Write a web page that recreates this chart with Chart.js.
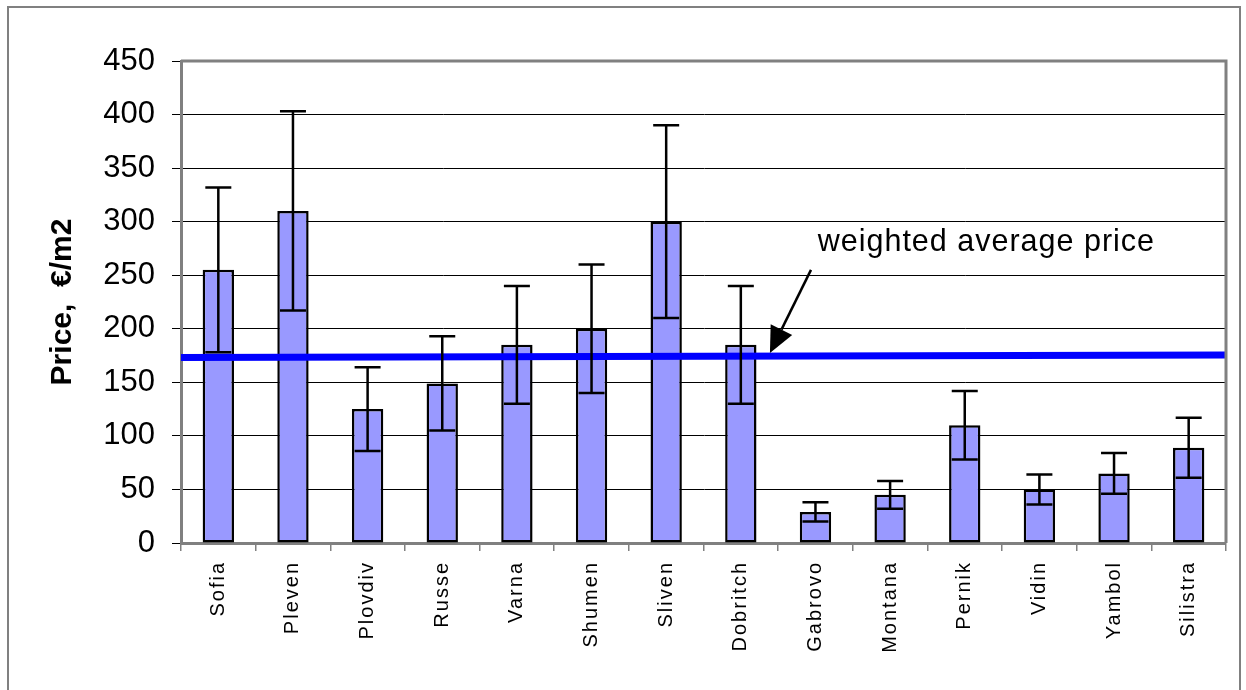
<!DOCTYPE html>
<html>
<head>
<meta charset="utf-8">
<script src="https://cdn.jsdelivr.net/npm/chart.js@4.4.1/dist/chart.umd.min.js"></script>
<style>
  html, body { margin: 0; padding: 0; background: #fff; }
  #wrap { position: relative; width: 1246px; height: 690px; }
</style>
</head>
<body>
<div id="wrap"><canvas id="myChart" width="1246" height="690"></canvas></div>
<script>
// Chart data
const cities = ['Sofia', 'Pleven', 'Plovdiv', 'Russe', 'Varna', 'Shumen', 'Sliven', 'Dobritch', 'Gabrovo', 'Montana', 'Pernik', 'Vidin', 'Yambol', 'Silistra'];
const prices = [255, 310, 125, 149, 185, 200, 300, 185, 29, 45, 110, 50, 65, 89];
const priceErrors = [77, 93, 39, 44, 55, 60, 90, 55, 9, 13, 32, 14, 19, 28];
// weighted average price line (start / end of the plot)
const avgX = [0, 14];
const avgPrice = [173.3, 175.5];
const yMin = 0, yMax = 450, yStep = 50;
const noteText = 'weighted average price';

const FONT = '"Liberation Sans", Arial, sans-serif';
const GREY = '#808080';

// Plugin: outer frame, plot frame, error bars and the arrow note
const extras = {
    id: 'extras',
    beforeDraw(chart) {
        const c = chart.ctx;
        c.save();
        c.strokeStyle = GREY;
        c.lineWidth = 2;
        c.beginPath();
        c.moveTo(8, 690); c.lineTo(8, 7); c.lineTo(1240, 7); c.lineTo(1240, 690);
        c.stroke();
        c.restore();

        // letter spacing only for the category labels
        const xs = chart.scales.x;
        if (!xs._spaced) {
            const orig = xs.drawLabels;
            xs.drawLabels = function (area) {
                this.ctx.save();
                this.ctx.letterSpacing = '2px';
                orig.call(this, area);
                this.ctx.restore();
            };
            xs._spaced = true;
        }
    },
    afterDatasetsDraw(chart) {
        const c = chart.ctx;
        const y = chart.scales.y;
        const x2 = chart.scales.x2;
        const area = chart.chartArea;
        const bars = chart.getDatasetMeta(1).data;

        // plot frame top / right
        c.save();
        c.strokeStyle = GREY;
        c.lineWidth = 3;
        c.beginPath();
        c.moveTo(area.left, area.top);
        c.lineTo(area.right, area.top);
        c.lineTo(area.right, area.bottom);
        c.stroke();

        // error bars
        c.strokeStyle = '#000';
        c.lineWidth = 2.5;
        bars.forEach((bar, i) => {
            const top = y.getPixelForValue(prices[i] + priceErrors[i]);
            const bot = y.getPixelForValue(prices[i] - priceErrors[i]);
            c.beginPath();
            c.moveTo(bar.x, top); c.lineTo(bar.x, bot);
            c.moveTo(bar.x - 13, top); c.lineTo(bar.x + 13, top);
            c.moveTo(bar.x - 13, bot); c.lineTo(bar.x + 13, bot);
            c.stroke();
        });

        // note text
        c.fillStyle = '#000';
        c.font = '30.5px ' + FONT;
        c.letterSpacing = '1px';
        c.textAlign = 'left';
        c.textBaseline = 'alphabetic';
        c.fillText(noteText, x2.getPixelForValue(8.53), y.getPixelForValue(272.6));
        c.letterSpacing = '0px';

        // arrow
        const sx = x2.getPixelForValue(8.44), sy = y.getPixelForValue(255);
        const tx = x2.getPixelForValue(7.89), ty = y.getPixelForValue(177.4);
        const ang = Math.atan2(ty - sy, tx - sx);
        const len = 26, half = 12;
        const bx = tx - len * Math.cos(ang), by = ty - len * Math.sin(ang);
        c.lineWidth = 2.5;
        c.beginPath();
        c.moveTo(sx, sy); c.lineTo(bx, by);
        c.stroke();
        c.beginPath();
        c.moveTo(tx, ty);
        c.lineTo(bx + half * Math.sin(ang), by - half * Math.cos(ang));
        c.lineTo(bx - half * Math.sin(ang), by + half * Math.cos(ang));
        c.closePath();
        c.fill();
        c.restore();
    }
};

const ctx = document.getElementById('myChart').getContext('2d');
const myChart = new Chart(ctx, {
    data: {
        labels: cities,
        datasets: [{
            type: 'line',
            label: 'weighted average price',
            data: avgX.map((v, i) => ({ x: v, y: avgPrice[i] })),
            xAxisID: 'x2',
            borderColor: '#0000ff',
            borderWidth: 7,
            pointRadius: 0,
            order: 1
        }, {
            type: 'bar',
            label: 'Price',
            data: prices,
            xAxisID: 'x',
            backgroundColor: '#9999ff',
            borderColor: '#000',
            borderWidth: 2.5,
            borderSkipped: false,
            grouped: false,
            barPercentage: 0.42,
            categoryPercentage: 1,
            order: 2
        }]
    },
    options: {
        responsive: false,
        animation: false,
        events: [],
        layout: { padding: { left: 0, top: 61, right: 20, bottom: 0 } },
        plugins: { legend: { display: false }, tooltip: { enabled: false } },
        scales: {
            x: {
                type: 'category',
                offset: true,
                grid: { offset: true, drawOnChartArea: false, color: GREY, lineWidth: 1.5, tickLength: 8 },
                border: { color: GREY, width: 3 },
                ticks: {
                    color: '#000',
                    font: { family: FONT, size: 20 },
                    minRotation: 90,
                    maxRotation: 90,
                    autoSkip: false,
                    padding: 10
                },
                afterFit(scale) { scale.height = 147; }
            },
            x2: {
                type: 'linear',
                display: false,
                min: 0,
                max: 14,
                offset: false
            },
            y: {
                min: yMin,
                max: yMax,
                ticks: {
                    stepSize: yStep,
                    color: '#000',
                    font: { family: FONT, size: 31 },
                    padding: 17
                },
                grid: { color: '#000', lineWidth: 1, tickLength: 9 },
                border: { color: GREY, width: 3 },
                title: {
                    display: true,
                    text: 'Price,  €/m2',
                    color: '#000',
                    font: { family: FONT, size: 30, weight: 'bold' },
                    padding: { top: 45 }
                },
                afterFit(scale) { scale.width = 181; }
            }
        }
    },
    plugins: [extras]
});
</script>
</body>
</html>
